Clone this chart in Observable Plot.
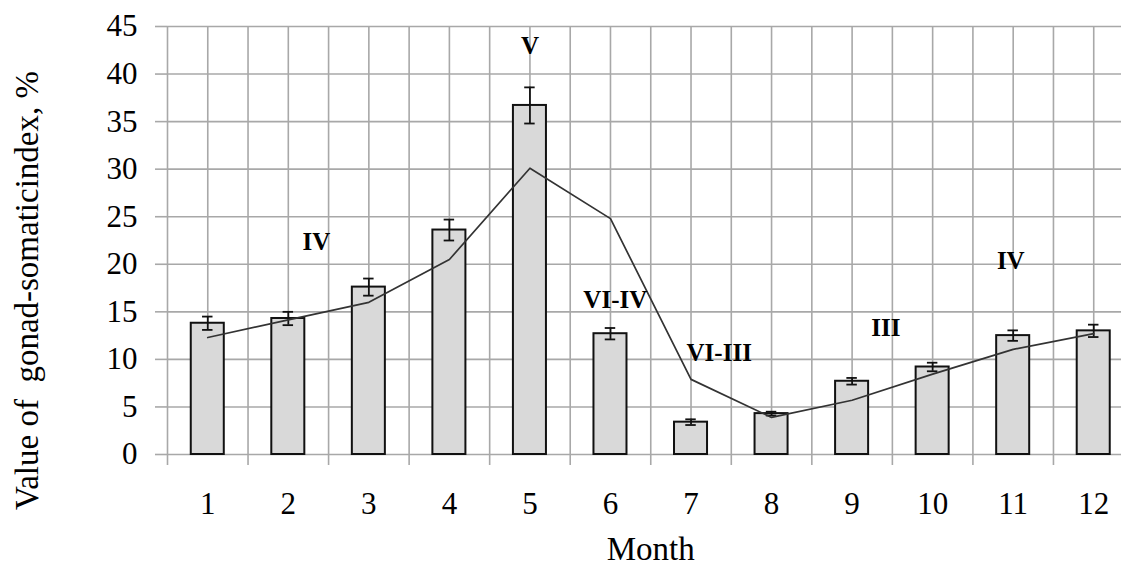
<!DOCTYPE html>
<html><head><meta charset="utf-8">
<script src="https://cdn.jsdelivr.net/npm/d3@7"></script>
<script src="https://cdn.jsdelivr.net/npm/@observablehq/plot@0.6"></script>
<style>
html,body{margin:0;padding:0;background:#fff;overflow:hidden;}
#chart svg{max-width:none;display:block;}
</style></head><body><div id="chart"></div>
<script>
const months = [1,2,3,4,5,6,7,8,9,10,11,12];
const gsi = [13.8,14.3,17.6,23.6,36.7,12.7,3.4,4.3,7.7,9.2,12.5,13.0];
const gsiErr = [0.7,0.7,0.9,1.1,1.9,0.6,0.3,0.2,0.35,0.45,0.55,0.65];
const trend = [12.3,14.15,16.0,20.5,30.1,24.8,7.9,3.9,5.7,8.45,11.05,12.7];
const stageLabels = ["IV","V","VI-IV","VI-III","III","IV"];
const stageMonth = [2.35,5.0,6.06,7.35,9.42,10.97];
const stageValue = [22.3,42.9,16.2,10.7,13.3,20.3];
const yTicks = [0,5,10,15,20,25,30,35,40,45];
const yTitle = "Value of  gonad-somaticindex, %";
const xTitle = "Month";

const data = months.map((m,i)=>({month:m, value:gsi[i], err:gsiErr[i], trend:trend[i]}));
const stages = stageLabels.map((s,i)=>({label:s, month:stageMonth[i], value:stageValue[i]}));
const boundaries = d3.range(0.5, 12.6, 1);
const halfGrid = d3.range(0.5, 12.6, 0.5);
const gridCol = "#a8a8a8";

const chart = Plot.plot({
  width: 1134, height: 567,
  marginLeft: 167, marginRight: 0.5, marginTop: 26, marginBottom: 113,
  style: {fontFamily: "'Liberation Serif', 'Times New Roman', serif", fontSize: "31px", color: "black", background: "white"},
  x: {type: "linear", domain: [0.5, 12.5], axis: null},
  y: {domain: [0, 45], axis: null},
  marks: [
    Plot.gridX(halfGrid, {stroke: gridCol, strokeOpacity: 1, strokeWidth: 1.6}),
    Plot.gridY(yTicks, {stroke: gridCol, strokeOpacity: 1, strokeWidth: 1.6}),
    Plot.axisY({ticks: yTicks, tickSize: 12, tickPadding: 18, stroke: gridCol, strokeWidth: 1.6, fill: "black", fontSize: 31, label: null}),
    Plot.axisX({ticks: boundaries, tickSize: 11, tickFormat: () => "", stroke: gridCol, strokeWidth: 1.6, label: null}),
    Plot.axisX({ticks: months, tickSize: 0, tickPadding: 37, fill: "black", fontSize: 31, tickFormat: d3.format("d"), label: null}),
    Plot.rectY(data, {x1: d => d.month - 0.205, x2: d => d.month + 0.205, y1: 0, y2: "value", fill: "#d9d9d9", stroke: "#111", strokeWidth: 2}),
    Plot.ruleX(data, {x: "month", y1: d => d.value - d.err, y2: d => d.value + d.err, stroke: "#111", strokeWidth: 1.8}),
    Plot.ruleY(data, {y: d => d.value + d.err, x1: d => d.month - 0.065, x2: d => d.month + 0.065, stroke: "#111", strokeWidth: 1.8}),
    Plot.ruleY(data, {y: d => d.value - d.err, x1: d => d.month - 0.065, x2: d => d.month + 0.065, stroke: "#111", strokeWidth: 1.8}),
    Plot.line(data, {x: "month", y: "trend", stroke: "#333", strokeWidth: 1.7}),
    Plot.text(stages, {x: "month", y: "value", text: "label", fontWeight: "bold", fontSize: 25, fill: "black"}),
    Plot.text([xTitle], {frameAnchor: "bottom", textAnchor: "middle", dy: 95, lineAnchor: "middle", fontSize: 33, fill: "black"}),
    Plot.text([yTitle], {frameAnchor: "left", textAnchor: "middle", rotate: -90, dx: -140, dy: 50, lineAnchor: "middle", fontSize: 33, fill: "black"})
  ]
});
document.getElementById("chart").appendChild(chart);
</script></body></html>
